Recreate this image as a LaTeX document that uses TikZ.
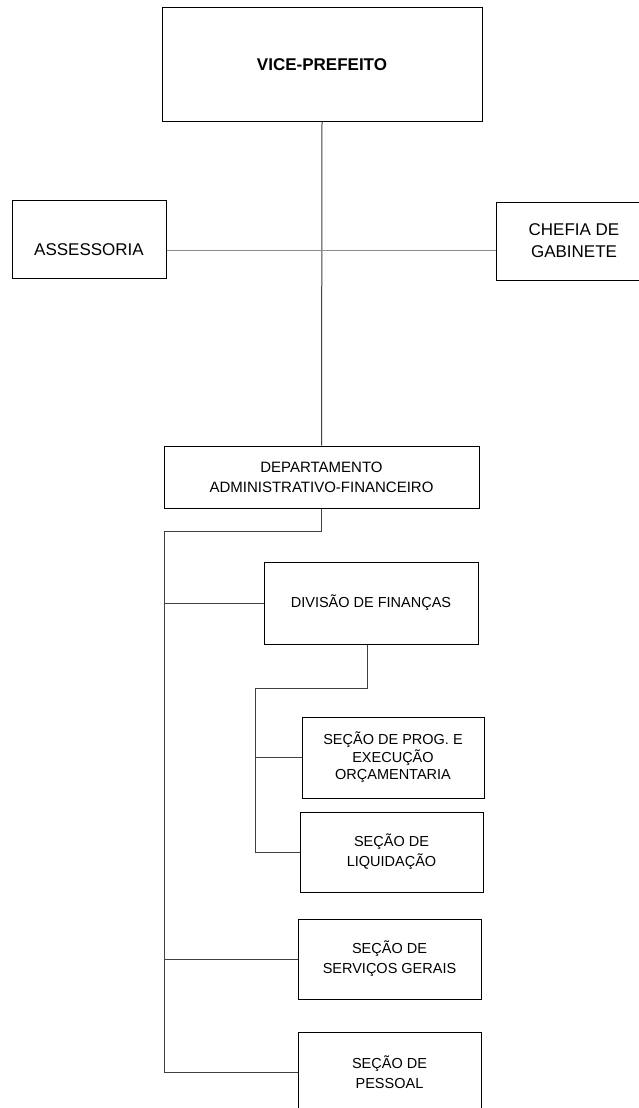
\documentclass[tikz,border=0pt]{standalone}
\usepackage{fontspec}
\setmainfont{Liberation Sans}
\usepackage{tikz}

\begin{document}
\begin{tikzpicture}[x=1pt, y=-1pt,
        box/.style  = {draw, line width=1pt, align=center, inner sep=0pt,
                       font=\fontsize{14.5}{20}\selectfont},
        big/.style  = {font=\fontsize{17}{22}\selectfont},
        link/.style = {line width=1pt, black!75}]
    \useasboundingbox (0,0) rectangle (639,1108);
    \draw
        (322,  64.5) node[box, big, minimum width=320pt, minimum height=113pt](deputy){\textbf{VICE-PREFEITO}}
        ( 89,  239 ) node[box, big, minimum width=154pt, minimum height=78pt, text height=34pt](advisory){ASSESSORIA}
        (574,  241 ) node[box, big, minimum width=155pt, minimum height=78pt](cabinet){CHEFIA DE\\GABINETE}
        (321.5, 477) node[box, minimum width=315pt, minimum height=62pt, font=\fontsize{15}{20}\selectfont](admin){DEPARTAMENTO\\ADMINISTRATIVO-FINANCEIRO}
        (371,  603 ) node[box, minimum width=214pt, minimum height=82pt](finance){DIVISÃO DE FINANÇAS}
        (393,  757.5) node[box, minimum width=182pt, minimum height=81pt, font=\fontsize{14.5}{17.5}\selectfont](budget){SEÇÃO DE PROG. E\\EXECUÇÃO\\ORÇAMENTARIA}
        (391.5, 852) node[box, minimum width=183pt, minimum height=80pt](settlement){SEÇÃO DE\\LIQUIDAÇÃO}
        (389.5, 959) node[box, minimum width=183pt, minimum height=80pt](services){SEÇÃO DE\\SERVIÇOS GERAIS}
        (389.5,1072) node[box, minimum width=183pt, minimum height=80pt](staff){SEÇÃO DE\\PESSOAL}
    ;
    \coordinate (trunk) at (164, 531);
    \coordinate (fork)  at (255, 688);

    \draw [link] (deputy.south) -- (admin.north);
    \draw [link, line width=0.6pt, black!45] ([yshift=-11pt]advisory.east) -- ([yshift=-9pt]cabinet.west);
    \draw [link] (admin.south) |- (trunk) |- (staff.west);
    \draw [link] (trunk) |- (finance.west);
    \draw [link] (trunk) |- (services.west);
    \draw [link] ([xshift=-4pt]finance.south) |- (fork) |- (settlement.west);
    \draw [link] (fork) |- (budget.west);
\end{tikzpicture}
\end{document}
